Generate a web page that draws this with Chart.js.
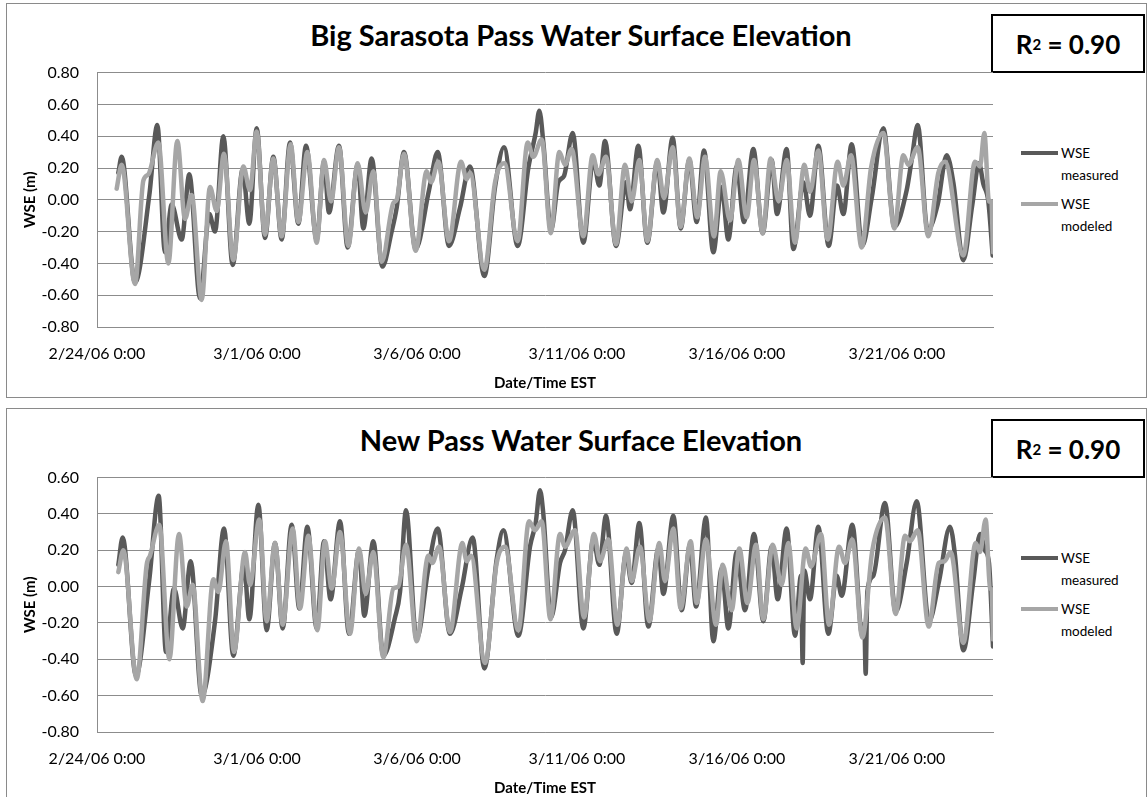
<!DOCTYPE html>
<html>
<head>
<meta charset="utf-8">
<script src="https://cdn.jsdelivr.net/npm/chart.js@4.4.1/dist/chart.umd.min.js"></script>
<style>
  body { margin: 0; width: 1148px; height: 797px; overflow: hidden; background: #fff; font-family: Lato, sans-serif; position: relative; }
  .panel { position: absolute; left: 6px; width: 1141px; border: 1.5px solid #8a8a8a; box-sizing: border-box; }
  .title { position: absolute; left: 0; width: 1162px; text-align: center; font-weight: bold; font-size: 29px; line-height: 34px; color: #000; }
  .rsq { position: absolute; left: 991px; width: 154px; height: 59px; border: 2px solid #000; box-sizing: border-box;
         display: flex; align-items: center; justify-content: center; font-weight: bold; font-size: 26px; background: #fff; }
  .rsq sup { font-size: 15px; vertical-align: 12px; line-height: 0; }
  .leg-line { position: absolute; left: 1021px; width: 37px; height: 4px; }
  .leg-text { position: absolute; left: 1061px; font-size: 13.5px; line-height: 22px; color: #000; }
  canvas { position: absolute; left: 0; }
</style>
</head>
<body>
<div class="panel" style="top:3px; height:395px;"></div>
<div class="panel" style="top:408px; height:400px;"></div>

<div class="title" style="top:18px;">Big Sarasota Pass Water Surface Elevation</div>
<div class="rsq" style="top:14px;">R<sup>2</sup>&nbsp;= 0.90</div>
<div class="leg-line" style="top:151px; background:#595959;"></div>
<div class="leg-text" style="top:142px;">WSE<br>measured</div>
<div class="leg-line" style="top:202px; background:#a6a6a6;"></div>
<div class="leg-text" style="top:193px;">WSE<br>modeled</div>
<canvas id="bigSarasotaChart" width="1000" height="352" style="top:45px;"></canvas>

<div class="title" style="top:423px;">New Pass Water Surface Elevation</div>
<div class="rsq" style="top:419px;">R<sup>2</sup>&nbsp;= 0.90</div>
<div class="leg-line" style="top:556px; background:#595959;"></div>
<div class="leg-text" style="top:547px;">WSE<br>measured</div>
<div class="leg-line" style="top:607px; background:#a6a6a6;"></div>
<div class="leg-text" style="top:598px;">WSE<br>modeled</div>
<canvas id="newPassChart" width="1000" height="352" style="top:450px;"></canvas>

<script>
// x values are days after 2/24/06 0:00, y values are WSE in metres
const xTickLabels = ['2/24/06 0:00', '3/1/06 0:00', '3/6/06 0:00', '3/11/06 0:00', '3/16/06 0:00', '3/21/06 0:00'];

// Big Sarasota Pass
const bspMeasuredDays = [0.667, 0.771, 1.188, 1.635, 1.885, 2.125, 2.333, 2.646, 2.885, 3.219, 3.51, 3.688, 3.948, 4.24, 4.552, 4.76, 4.99, 5.25, 5.51, 5.771, 6.031, 6.292, 6.531, 6.865, 7.094, 7.25, 7.563, 7.833, 8.146, 8.323, 8.583, 8.917, 9.208, 9.365, 9.594, 9.958, 10.375, 10.646, 11.0, 11.344, 11.656, 12.104, 12.438, 12.719, 13.146, 13.479, 13.708, 13.823, 13.948, 14.19, 14.417, 14.594, 14.865, 15.198, 15.51, 15.698, 15.875, 16.219, 16.531, 16.656, 16.917, 17.198, 17.51, 17.698, 17.99, 18.24, 18.51, 18.74, 18.969, 19.26, 19.521, 19.729, 19.99, 20.219, 20.51, 20.802, 21.083, 21.25, 21.552, 21.76, 22.073, 22.281, 22.542, 22.865, 23.125, 23.323, 23.583, 23.917, 24.208, 24.573, 24.917, 25.302, 25.458, 25.646, 25.958, 26.271, 26.552, 26.76, 27.073, 27.354, 27.563, 27.698, 27.854, 27.99];
const bspMeasuredWse = [0.17, 0.27, -0.52, 0.03, 0.47, -0.33, -0.03, -0.25, 0.16, -0.62, -0.09, -0.20, 0.40, -0.41, 0.19, -0.15, 0.45, -0.24, 0.27, -0.25, 0.36, -0.15, 0.34, -0.25, 0.24, -0.08, 0.34, -0.30, 0.22, -0.18, 0.26, -0.42, -0.20, -0.05, 0.30, -0.31, 0.06, 0.30, -0.29, -0.05, 0.21, -0.48, 0.08, 0.33, -0.29, 0.20, 0.42, 0.56, 0.36, -0.19, 0.11, 0.15, 0.42, -0.27, 0.25, 0.09, 0.37, -0.29, 0.11, -0.06, 0.34, -0.27, 0.24, -0.08, 0.39, -0.18, 0.25, -0.14, 0.31, -0.33, 0.08, -0.25, 0.21, -0.14, 0.32, -0.21, 0.25, -0.09, 0.32, -0.31, 0.11, -0.10, 0.34, -0.29, 0.09, -0.09, 0.35, -0.29, 0.01, 0.45, -0.17, 0.06, 0.25, 0.47, -0.19, -0.03, 0.28, 0.11, -0.38, -0.03, 0.23, 0.10, -0.01, -0.35];
const bspModeledDays = [0.615, 0.771, 1.188, 1.448, 1.604, 1.917, 2.229, 2.51, 2.75, 2.958, 3.271, 3.531, 3.74, 3.969, 4.26, 4.573, 4.781, 4.99, 5.25, 5.51, 5.771, 6.052, 6.292, 6.573, 6.865, 7.094, 7.313, 7.563, 7.854, 8.146, 8.396, 8.635, 8.896, 9.26, 9.365, 9.594, 9.958, 10.302, 10.438, 10.667, 11.0, 11.375, 11.552, 11.656, 12.104, 12.438, 12.729, 13.146, 13.458, 13.635, 13.896, 14.18, 14.448, 14.625, 14.833, 15.198, 15.49, 15.667, 15.906, 16.219, 16.5, 16.708, 16.948, 17.198, 17.51, 17.719, 17.99, 18.24, 18.51, 18.76, 19.0, 19.281, 19.49, 19.781, 20.042, 20.302, 20.531, 20.802, 21.052, 21.3, 21.552, 21.813, 22.104, 22.281, 22.542, 22.833, 23.146, 23.323, 23.563, 23.896, 24.188, 24.573, 24.917, 25.198, 25.354, 25.646, 25.979, 26.292, 26.5, 27.073, 27.438, 27.594, 27.729, 27.875, 27.95, 28.0];
const bspModeledWse = [0.07, 0.22, -0.53, 0.12, 0.16, 0.36, -0.40, 0.37, -0.12, 0.03, -0.63, 0.08, -0.07, 0.29, -0.38, 0.21, 0.06, 0.43, -0.22, 0.26, -0.23, 0.35, -0.14, 0.30, -0.27, 0.25, -0.01, 0.33, -0.29, 0.23, -0.08, 0.18, -0.39, -0.02, 0.00, 0.29, -0.32, 0.18, 0.11, 0.24, -0.26, 0.24, 0.13, 0.17, -0.44, 0.11, 0.23, -0.26, 0.36, 0.27, 0.38, -0.21, 0.30, 0.22, 0.32, -0.23, 0.28, 0.16, 0.27, -0.28, 0.22, -0.01, 0.25, -0.26, 0.25, 0.01, 0.33, -0.17, 0.26, -0.11, 0.27, -0.23, 0.18, -0.13, 0.25, -0.11, 0.25, -0.21, 0.26, -0.01, 0.25, -0.27, 0.22, 0.05, 0.31, -0.25, 0.24, 0.09, 0.28, -0.30, 0.20, 0.42, -0.18, 0.28, 0.22, 0.33, -0.23, 0.17, 0.24, -0.35, 0.24, 0.21, 0.42, -0.01, -0.01, -0.33];

// New Pass
const npMeasuredDays = [0.667, 0.802, 1.219, 1.635, 1.927, 2.156, 2.406, 2.677, 2.927, 3.271, 3.688, 3.969, 4.26, 4.594, 4.76, 5.042, 5.302, 5.563, 5.802, 6.083, 6.323, 6.573, 6.865, 7.094, 7.3, 7.594, 7.875, 8.188, 8.354, 8.635, 8.948, 9.313, 9.469, 9.656, 9.99, 10.354, 10.646, 11.031, 11.396, 11.74, 12.104, 12.49, 12.698, 13.167, 13.531, 13.708, 13.844, 13.948, 14.19, 14.469, 14.625, 14.865, 15.198, 15.51, 15.698, 15.906, 16.24, 16.531, 16.708, 16.948, 17.229, 17.542, 17.698, 18.01, 18.271, 18.531, 18.719, 19.031, 19.26, 19.521, 19.729, 19.99, 20.25, 20.531, 20.823, 21.083, 21.271, 21.552, 21.813, 22.0, 22.052, 22.1, 22.281, 22.542, 22.854, 23.115, 23.271, 23.604, 23.917, 23.979, 24.021, 24.073, 24.26, 24.625, 24.958, 25.302, 25.615, 26.0, 26.313, 26.656, 26.813, 27.073, 27.385, 27.594, 27.75, 27.875, 28.0];
const npMeasuredWse = [0.12, 0.27, -0.49, 0.04, 0.50, -0.36, -0.01, -0.23, 0.14, -0.60, -0.19, 0.32, -0.38, 0.12, -0.18, 0.45, -0.24, 0.24, -0.23, 0.34, -0.12, 0.33, -0.23, 0.25, -0.07, 0.36, -0.26, 0.20, -0.16, 0.25, -0.38, -0.17, -0.03, 0.42, -0.29, 0.10, 0.32, -0.26, -0.01, 0.27, -0.45, 0.15, 0.31, -0.27, 0.22, 0.35, 0.53, 0.40, -0.17, 0.13, 0.20, 0.42, -0.23, 0.26, 0.12, 0.39, -0.26, 0.18, 0.02, 0.35, -0.22, 0.21, -0.04, 0.39, -0.13, 0.23, -0.11, 0.38, -0.30, 0.10, -0.23, 0.19, -0.13, 0.29, -0.19, 0.22, -0.07, 0.32, -0.27, 0.06, -0.42, 0.09, -0.07, 0.33, -0.26, 0.06, -0.05, 0.34, -0.27, -0.21, -0.48, -0.03, 0.06, 0.46, -0.14, 0.13, 0.47, -0.19, 0.03, 0.33, 0.17, -0.35, 0.03, 0.29, 0.20, 0.13, -0.33];
const npModeledDays = [0.667, 0.823, 1.24, 1.552, 1.656, 1.948, 2.26, 2.563, 2.802, 2.99, 3.302, 3.635, 3.792, 4.031, 4.281, 4.625, 4.781, 5.073, 5.302, 5.563, 5.802, 6.115, 6.344, 6.604, 6.885, 7.125, 7.333, 7.594, 7.906, 8.188, 8.396, 8.635, 8.948, 9.26, 9.417, 9.656, 9.99, 10.354, 10.479, 10.688, 11.031, 11.417, 11.552, 11.688, 12.125, 12.49, 12.75, 13.167, 13.5, 13.688, 13.896, 14.17, 14.469, 14.625, 14.938, 15.219, 15.531, 15.719, 15.979, 16.26, 16.552, 16.708, 16.969, 17.26, 17.573, 17.75, 18.01, 18.24, 18.552, 18.74, 19.031, 19.344, 19.552, 19.833, 20.073, 20.323, 20.594, 20.823, 21.115, 21.396, 21.604, 21.865, 22.146, 22.313, 22.625, 22.875, 23.188, 23.375, 23.604, 23.917, 24.229, 24.625, 24.958, 25.25, 25.406, 25.646, 25.99, 26.302, 26.49, 26.677, 27.073, 27.458, 27.594, 27.771, 27.906, 27.96, 28.0];
const npModeledWse = [0.08, 0.20, -0.51, 0.12, 0.17, 0.34, -0.40, 0.29, -0.11, 0.01, -0.63, 0.04, -0.03, 0.25, -0.36, 0.19, 0.01, 0.37, -0.19, 0.24, -0.21, 0.32, -0.12, 0.28, -0.24, 0.25, -0.01, 0.30, -0.26, 0.21, -0.04, 0.19, -0.39, -0.01, 0.00, 0.23, -0.30, 0.17, 0.13, 0.22, -0.25, 0.24, 0.14, 0.17, -0.42, 0.13, 0.22, -0.24, 0.36, 0.31, 0.36, -0.18, 0.29, 0.22, 0.31, -0.17, 0.29, 0.14, 0.26, -0.21, 0.21, 0.03, 0.22, -0.19, 0.24, 0.03, 0.32, -0.12, 0.25, -0.09, 0.26, -0.21, 0.12, -0.13, 0.21, -0.09, 0.23, -0.18, 0.23, 0.01, 0.24, -0.23, 0.21, 0.11, 0.29, -0.21, 0.22, 0.13, 0.26, -0.28, 0.20, 0.38, -0.15, 0.28, 0.25, 0.31, -0.22, 0.13, 0.14, 0.19, -0.31, 0.24, 0.19, 0.37, -0.01, -0.02, -0.29];

const measuredColor = '#595959';
const modeledColor = '#a6a6a6';
const gridColor = '#8c8c8c';

Chart.defaults.font.family = 'Lato, sans-serif';
Chart.defaults.color = '#000';

function toPoints(days, values) {
  return days.map((d, i) => ({ x: d, y: values[i] }));
}

// avoid "-0.00" from floating point steps
function fmtTick(value) {
  return (Math.abs(value) < 1e-9 ? 0 : value).toFixed(2);
}

function makeChart(canvasId, measuredDays, measuredWse, modeledDays, modeledWse, yMin, yMax) {
  const ctx = document.getElementById(canvasId).getContext('2d');
  return new Chart(ctx, {
    type: 'line',
    data: {
      datasets: [{
        label: 'WSE measured',
        data: toPoints(measuredDays, measuredWse),
        borderColor: measuredColor,
        borderWidth: 4.5,
        order: 2
      }, {
        label: 'WSE modeled',
        data: toPoints(modeledDays, modeledWse),
        borderColor: modeledColor,
        borderWidth: 4.5,
        order: 1
      }]
    },
    options: {
      responsive: false,
      animation: false,
      parsing: false,
      cubicInterpolationMode: 'monotone',
      elements: {
        point: { radius: 0 },
        line: { borderJoinStyle: 'round', borderCapStyle: 'round' }
      },
      layout: { padding: { top: 19, right: 7, left: 0, bottom: 0 } },
      plugins: {
        legend: { display: false },
        tooltip: { enabled: false }
      },
      scales: {
        x: {
          type: 'linear',
          min: 0,
          max: 28,
          afterFit: (scale) => { scale.height = 70; },
          grid: { display: false, drawTicks: false },
          border: { display: true, color: gridColor, width: 1 },
          ticks: {
            stepSize: 5,
            includeBounds: false,
            maxRotation: 0,
            autoSkip: false,
            padding: 17,
            font: { size: 16 },
            callback: (value) => xTickLabels[Math.round(value / 5)] || ''
          },
          title: {
            display: true,
            text: 'Date/Time EST',
            font: { size: 15, weight: 'bold' },
            padding: { top: 0, bottom: 5 }
          }
        },
        y: {
          min: yMin,
          max: yMax,
          afterFit: (scale) => { scale.width = 97; },
          grid: { color: gridColor, lineWidth: 1, drawTicks: false },
          border: { display: true, color: gridColor, width: 1 },
          ticks: {
            stepSize: 0.2,
            padding: 18,
            font: { size: 16 },
            callback: fmtTick
          },
          title: {
            display: true,
            text: 'WSE (m)',
            font: { size: 15, weight: 'bold' },
            padding: { top: 21, bottom: 0 }
          }
        }
      }
    }
  });
}

makeChart('bigSarasotaChart', bspMeasuredDays, bspMeasuredWse, bspModeledDays, bspModeledWse, -0.8, 0.8);
makeChart('newPassChart', npMeasuredDays, npMeasuredWse, npModeledDays, npModeledWse, -0.8, 0.6);
</script>
</body>
</html>
